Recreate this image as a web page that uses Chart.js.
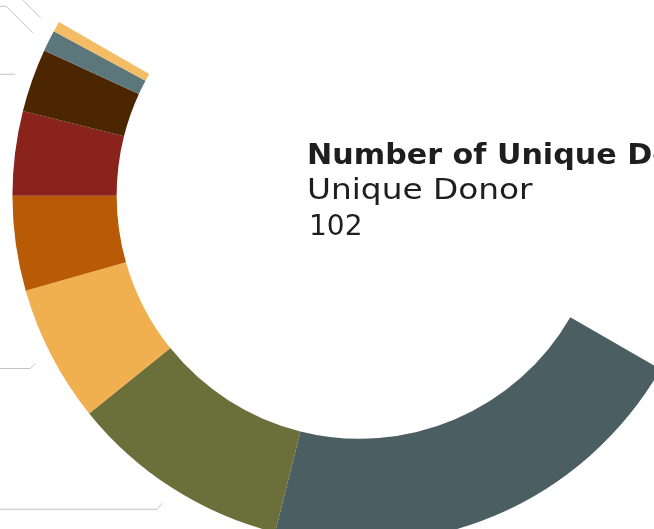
<!DOCTYPE html>
<html>
<head>
<meta charset="utf-8">
<script src="https://cdn.jsdelivr.net/npm/chart.js@4.4.0/dist/chart.umd.min.js"></script>
<style>
  html, body { margin: 0; padding: 0; background: #fff; }
  #marco { position: relative; width: 654px; height: 529px; overflow: hidden; }
  #contGrafica { position: absolute; left: 0; top: 0; width: 680px; height: 560px; }
  .texto { position: absolute; left: 307px; color: #1e1e1e; font-family: "DejaVu Sans", sans-serif;
           line-height: 1; white-space: nowrap; transform-origin: 0 0; }
  #titulo { top: 140px; font-size: 29px; font-weight: bold; transform: scaleX(1.04); }
  #subtitulo { top: 176px; font-size: 28px; transform: scaleX(1.17); }
  #total { top: 212px; left: 309px; font-size: 28px; transform: scaleX(1.0); }
</style>
</head>
<body>
<div id="marco">
  <div id="contGrafica"><canvas id="miGrafica"></canvas></div>
  <div class="texto" id="titulo">Number of Unique Donors</div>
  <div class="texto" id="subtitulo">Unique Donor</div>
  <div class="texto" id="total">102</div>
</div>
<script>
  // Datos de la grafica
  var categorias = ["Segment 1", "Segment 2", "Segment 3", "Segment 4", "Segment 5", "Segment 6", "Segment 7", "Segment 8"]
  var donantes = [42, 21, 13, 9, 8, 6, 2, 1]
  var colores = ["#4b5f62", "#6b703b", "#f0b050", "#b95a06", "#8a231c", "#4b2601", "#5c777b", "#f2bd65"]

  // cuanto sube o baja cada linea guia antes de ir en horizontal
  var caidaGuia = [6, 6, 5, 5, 5, 0, -26.5, -40]

  var lineasGuia = { //Dibuja las lineas guia de cada porcion
    id: 'lineasGuia',
    afterDatasetsDraw: function (chart) {
      var ctx = chart.ctx
      var arcos = chart.getDatasetMeta(0).data
      ctx.save()
      ctx.strokeStyle = '#c2c2c2'
      ctx.lineWidth = 1
      arcos.forEach(function (arco, i) {
        var p = arco.getProps(['x', 'y', 'startAngle', 'endAngle', 'outerRadius'], true)
        var medio = (p.startAngle + p.endAngle) / 2
        var r = p.outerRadius + 18
        var x0 = p.x + Math.cos(medio) * r
        var y0 = p.y + Math.sin(medio) * r
        var lado = Math.cos(medio) < 0 ? -1 : 1
        var x1 = x0 + lado * Math.abs(caidaGuia[i])
        var y1 = y0 + caidaGuia[i]
        ctx.beginPath()
        ctx.moveTo(x0, y0)
        ctx.lineTo(x1, y1)
        ctx.lineTo(x1 + lado * 400, y1)
        ctx.stroke()
      })
      ctx.restore()
    }
  }

  new Chart("miGrafica", {
    type: "doughnut",
    data: {
      labels: categorias,
      datasets: [{
        data: donantes,
        backgroundColor: colores,
        borderWidth: 0,
        hoverOffset: 0
      }]
    },
    options: {
      responsive: true,
      maintainAspectRatio: false,
      animation: false,
      rotation: 120, // empieza abajo a la derecha
      circumference: 180,
      cutout: "70%",
      layout: { padding: { left: 12, top: 22, right: 19, bottom: 17 } },
      plugins: {
        legend: { display: false },
        tooltip: { enabled: false }
      }
    },
    plugins: [lineasGuia]
  })
</script>
</body>
</html>
